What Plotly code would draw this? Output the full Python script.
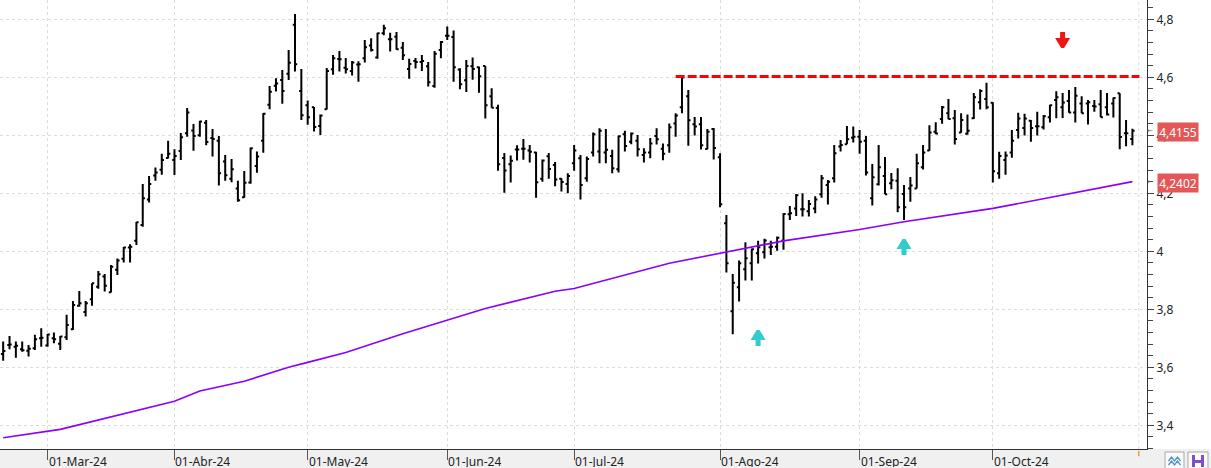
import pandas as pd
import plotly.graph_objects as go

# ---------------- data ----------------
holidays = ["2024-03-29", "2024-04-01", "2024-05-01"]
dates = [d.strftime("%Y-%m-%d") for d in pd.bdate_range("2024-02-21", "2024-10-31")
         if d.strftime("%Y-%m-%d") not in holidays]

tick_labels = ["01-Mar-24", "01-Abr-24", "01-May-24", "01-Jun-24",
               "01-Jul-24", "01-Ago-24", "01-Sep-24", "01-Oct-24"]

opens = [
    3.646, 3.677, 3.671, 3.662, 3.657, 3.666, 3.700, 3.675, 3.700, 3.681,
    3.704, 3.731, 3.812, 3.791, 3.835, 3.878, 3.913, 3.859, 3.936, 3.974,
    4.013, 4.036, 4.091, 4.179, 4.261, 4.281, 4.322, 4.315, 4.346, 4.407,
    4.417, 4.400, 4.443, 4.391, 4.381, 4.310, 4.250, 4.217, 4.186, 4.237,
    4.294, 4.381, 4.505, 4.571, 4.591, 4.612, 4.781, 4.553, 4.504, 4.497,
    4.432, 4.490, 4.628, 4.663, 4.633, 4.622, 4.644, 4.666, 4.710, 4.668,
    4.752, 4.731, 4.740, 4.702, 4.629, 4.656, 4.653, 4.638, 4.570, 4.694,
    4.743, 4.739, 4.627, 4.590, 4.638, 4.635, 4.639, 4.535, 4.494, 4.322,
    4.300, 4.351, 4.354, 4.348, 4.341, 4.250, 4.328, 4.298, 4.250, 4.232,
    4.304, 4.321, 4.252, 4.341, 4.344, 4.341, 4.329, 4.283, 4.404, 4.378,
    4.381, 4.332, 4.341, 4.398, 4.354, 4.366, 4.441, 4.497, 4.535, 4.438,
    4.438, 4.353, 4.422, 4.324, 4.097, 3.793, 3.876, 3.938, 3.959, 3.993,
    3.997, 4.014, 4.016, 4.036, 4.128, 4.148, 4.145, 4.138, 4.148, 4.197,
    4.229, 4.252, 4.361, 4.369, 4.392, 4.395, 4.381, 4.183, 4.231, 4.260,
    4.235, 4.243, 4.198, 4.217, 4.217, 4.290, 4.348, 4.412, 4.456, 4.476,
    4.459, 4.410, 4.405, 4.459, 4.514, 4.525, 4.512, 4.269, 4.315, 4.341,
    4.418, 4.425, 4.450, 4.431, 4.428, 4.462, 4.522, 4.497, 4.518, 4.479,
    4.510, 4.510, 4.501, 4.507, 4.497, 4.510, 4.545, 4.407, 4.387,
]
highs = [
    3.689, 3.708, 3.689, 3.689, 3.677, 3.712, 3.735, 3.715, 3.720, 3.708,
    3.781, 3.829, 3.863, 3.829, 3.890, 3.932, 3.922, 3.953, 3.975, 4.015,
    4.024, 4.101, 4.232, 4.260, 4.289, 4.336, 4.381, 4.352, 4.408, 4.494,
    4.439, 4.450, 4.453, 4.422, 4.398, 4.332, 4.318, 4.243, 4.277, 4.358,
    4.344, 4.477, 4.570, 4.597, 4.625, 4.694, 4.818, 4.629, 4.520, 4.498,
    4.472, 4.632, 4.677, 4.691, 4.667, 4.656, 4.655, 4.729, 4.735, 4.754,
    4.781, 4.754, 4.756, 4.722, 4.664, 4.667, 4.677, 4.653, 4.691, 4.725,
    4.775, 4.761, 4.631, 4.660, 4.668, 4.637, 4.639, 4.562, 4.505, 4.339,
    4.330, 4.366, 4.387, 4.367, 4.343, 4.317, 4.339, 4.308, 4.252, 4.269,
    4.367, 4.332, 4.327, 4.410, 4.424, 4.422, 4.350, 4.399, 4.416, 4.410,
    4.401, 4.355, 4.391, 4.424, 4.372, 4.441, 4.476, 4.603, 4.556, 4.463,
    4.463, 4.422, 4.425, 4.338, 4.125, 3.922, 3.968, 4.031, 4.010, 4.036,
    4.043, 4.036, 4.051, 4.131, 4.156, 4.198, 4.200, 4.177, 4.190, 4.263,
    4.246, 4.367, 4.384, 4.432, 4.430, 4.418, 4.398, 4.301, 4.367, 4.325,
    4.270, 4.286, 4.229, 4.256, 4.336, 4.367, 4.435, 4.445, 4.501, 4.525,
    4.487, 4.476, 4.472, 4.546, 4.559, 4.581, 4.514, 4.343, 4.344, 4.418,
    4.478, 4.474, 4.453, 4.481, 4.470, 4.505, 4.552, 4.546, 4.556, 4.567,
    4.535, 4.522, 4.522, 4.556, 4.546, 4.530, 4.545, 4.453, 4.423,
]
lows = [
    3.623, 3.662, 3.633, 3.654, 3.637, 3.660, 3.671, 3.671, 3.683, 3.660,
    3.694, 3.729, 3.809, 3.775, 3.812, 3.871, 3.861, 3.858, 3.918, 3.961,
    3.961, 4.022, 4.085, 4.168, 4.243, 4.264, 4.320, 4.263, 4.315, 4.395,
    4.347, 4.395, 4.366, 4.327, 4.227, 4.243, 4.238, 4.171, 4.185, 4.233,
    4.271, 4.340, 4.490, 4.551, 4.509, 4.591, 4.620, 4.453, 4.436, 4.413,
    4.401, 4.489, 4.609, 4.620, 4.613, 4.606, 4.585, 4.651, 4.689, 4.664,
    4.745, 4.689, 4.695, 4.660, 4.595, 4.630, 4.622, 4.568, 4.564, 4.666,
    4.729, 4.585, 4.559, 4.549, 4.592, 4.547, 4.458, 4.495, 4.278, 4.202,
    4.237, 4.313, 4.316, 4.306, 4.185, 4.240, 4.250, 4.224, 4.206, 4.200,
    4.278, 4.179, 4.240, 4.327, 4.304, 4.304, 4.269, 4.272, 4.344, 4.369,
    4.327, 4.306, 4.321, 4.368, 4.314, 4.340, 4.395, 4.476, 4.364, 4.399,
    4.351, 4.352, 4.317, 4.152, 3.927, 3.714, 3.827, 3.899, 3.899, 3.958,
    3.975, 3.987, 4.002, 4.005, 4.108, 4.122, 4.120, 4.120, 4.131, 4.185,
    4.161, 4.237, 4.344, 4.369, 4.375, 4.336, 4.261, 4.158, 4.227, 4.197,
    4.214, 4.135, 4.108, 4.171, 4.217, 4.282, 4.347, 4.404, 4.440, 4.455,
    4.368, 4.409, 4.402, 4.456, 4.489, 4.490, 4.237, 4.250, 4.264, 4.323,
    4.389, 4.399, 4.378, 4.399, 4.420, 4.444, 4.459, 4.460, 4.478, 4.444,
    4.476, 4.437, 4.481, 4.462, 4.468, 4.461, 4.352, 4.362, 4.366,
]
closes = [
    3.656, 3.679, 3.674, 3.659, 3.664, 3.697, 3.702, 3.713, 3.697, 3.706,
    3.746, 3.815, 3.821, 3.821, 3.890, 3.921, 3.881, 3.947, 3.968, 4.013,
    4.016, 4.100, 4.183, 4.232, 4.272, 4.315, 4.336, 4.329, 4.393, 4.479,
    4.398, 4.448, 4.377, 4.387, 4.269, 4.262, 4.283, 4.176, 4.236, 4.355,
    4.327, 4.474, 4.550, 4.579, 4.553, 4.650, 4.645, 4.469, 4.462, 4.429,
    4.468, 4.622, 4.666, 4.662, 4.628, 4.651, 4.645, 4.704, 4.694, 4.752,
    4.769, 4.731, 4.697, 4.676, 4.646, 4.653, 4.656, 4.583, 4.681, 4.722,
    4.743, 4.635, 4.576, 4.639, 4.629, 4.604, 4.504, 4.495, 4.300, 4.279,
    4.312, 4.351, 4.354, 4.343, 4.238, 4.313, 4.284, 4.248, 4.239, 4.260,
    4.348, 4.229, 4.318, 4.404, 4.416, 4.350, 4.286, 4.397, 4.363, 4.406,
    4.352, 4.341, 4.372, 4.386, 4.336, 4.428, 4.468, 4.599, 4.452, 4.430,
    4.366, 4.412, 4.356, 4.162, 3.959, 3.892, 3.959, 3.976, 4.007, 4.014,
    4.037, 4.016, 4.047, 4.129, 4.131, 4.193, 4.145, 4.163, 4.179, 4.252,
    4.240, 4.338, 4.367, 4.386, 4.395, 4.378, 4.272, 4.255, 4.290, 4.197,
    4.245, 4.152, 4.152, 4.227, 4.304, 4.341, 4.410, 4.406, 4.497, 4.456,
    4.387, 4.453, 4.416, 4.531, 4.553, 4.497, 4.276, 4.329, 4.330, 4.381,
    4.458, 4.458, 4.425, 4.431, 4.466, 4.504, 4.531, 4.513, 4.479, 4.536,
    4.476, 4.514, 4.499, 4.462, 4.472, 4.529, 4.394, 4.407, 4.4155,
]

# moving average (read at sampled bars)
ma_idx = [0, 7, 9, 27, 31, 38, 45, 48, 54, 63, 69, 76, 87, 90, 105, 113,
          123, 135, 142, 156, 166, 178]
ma_vals = [3.357, 3.380, 3.386, 3.483, 3.518, 3.552, 3.600, 3.617, 3.651,
           3.716, 3.757, 3.803, 3.862, 3.872, 3.959, 3.993, 4.036, 4.075,
           4.102, 4.148, 4.189, 4.2402]

resistance_level = 4.603
resistance_from_bar = 106

up_signal_bars = [119, 142]
up_signal_prices = [3.701, 4.015]
down_signal_bars = [167]
down_signal_prices = [4.729]

# --------------- figure ---------------
n = len(dates)
tick_dates = []
seen = set()
for d in dates:
    m = d[:7]
    if m not in seen:
        seen.add(m)
        if d[8:] <= "03":
            tick_dates.append(d)

fig = go.Figure()
bar_line = dict(color="#000000", width=2)
fig.add_trace(go.Ohlc(
    x=dates, open=opens, high=highs, low=lows, close=closes,
    increasing=dict(line=bar_line), decreasing=dict(line=bar_line),
    tickwidth=0.35, hoverinfo="skip", showlegend=False,
))
fig.add_trace(go.Scatter(
    x=[dates[i] for i in ma_idx], y=ma_vals, mode="lines",
    line=dict(color="#8a00ff", width=1.6), hoverinfo="skip", showlegend=False,
))

grid = "#dcdcdc"
fig.update_layout(
    width=1211, height=468,
    margin=dict(l=0, r=64, t=0, b=19, pad=0),
    paper_bgcolor="white", plot_bgcolor="white",
    showlegend=False, separators=",.",
    font=dict(family="Noto Sans, Open Sans, sans-serif", size=12, color="#222222"),
    xaxis=dict(
        type="category", range=[-0.5, 180.3],
        rangeslider=dict(visible=False),
        tickmode="array", tickvals=tick_dates, ticktext=[""] * len(tick_dates),
        showticklabels=False,
        ticks="outside", ticklen=10, tickcolor="#555555",
        showgrid=True, gridcolor=grid, griddash="3px,3px", gridwidth=1,
        showline=True, linecolor="#333333", linewidth=1,
        zeroline=False, fixedrange=True,
    ),
    yaxis=dict(
        side="right", range=[3.3183, 4.8666],
        tick0=3.4, dtick=0.2,
        ticks="outside", ticklen=6, tickcolor="#444444",
        minor=dict(dtick=0.04, ticks="outside", ticklen=5, tickcolor="#444444", showgrid=False),
        showgrid=True, gridcolor=grid, griddash="3px,3px", gridwidth=1,
        showline=True, linecolor="#333333", linewidth=1,
        zeroline=False, fixedrange=True,
        tickfont=dict(size=12, color="#222222"),
    ),
)

shapes = []
# bottom gray strip
shapes.append(dict(type="rect", xref="paper", yref="paper", x0=-0.01, x1=1.06,
                   y0=-0.06, y1=0, fillcolor="#f0f0f0", line=dict(width=0), layer="below"))
# Nov gridline + orange tick
shapes.append(dict(type="line", xref="x", yref="paper", x0=n, x1=n, y0=0, y1=1,
                   line=dict(color=grid, width=1, dash="3px,3px"), layer="below"))
shapes.append(dict(type="line", xref="x", yref="paper", x0=n, x1=n, y0=-0.004, y1=-0.016,
                   line=dict(color="#f0a030", width=1.5)))
# resistance
shapes.append(dict(type="line", xref="x", yref="y", x0=resistance_from_bar, x1=n + 0.1,
                   y0=resistance_level, y1=resistance_level,
                   line=dict(color="#ff0000", width=3, dash="9px,3px")))
# signal arrows
up_path = "M -1.5,8 L 1.5,8 L 7.5,-2 L 2.5,-2 L 2.5,-8 L -2.5,-8 L -2.5,-2 L -7.5,-2 Z"
down_path = "M -1.5,-8 L 1.5,-8 L 7.5,2 L 2.5,2 L 2.5,8 L -2.5,8 L -2.5,2 L -7.5,2 Z"
for b, p in zip(up_signal_bars, up_signal_prices):
    shapes.append(dict(type="path", xref="x", yref="y", xsizemode="pixel", ysizemode="pixel",
                       xanchor=b, yanchor=p, path=up_path,
                       fillcolor="#33cccc", line=dict(width=0)))
for b, p in zip(down_signal_bars, down_signal_prices):
    shapes.append(dict(type="path", xref="x", yref="y", xsizemode="pixel", ysizemode="pixel",
                       xanchor=b, yanchor=p, path=down_path,
                       fillcolor="#f01414", line=dict(width=0)))
# bottom-right buttons
pw = 1147.0
ph = 449.0
def px(x):
    return x / pw
def py(y):
    return (ph - y) / ph
for x0, x1 in [(1165, 1184), (1188, 1208)]:
    shapes.append(dict(type="rect", xref="paper", yref="paper", x0=px(x0), x1=px(x1),
                       y0=py(470), y1=py(452), fillcolor="#fafafa",
                       line=dict(color="#a8a8a8", width=1)))
shapes.append(dict(type="path", xref="paper", yref="paper", xsizemode="pixel", ysizemode="pixel",
                   xanchor=px(1174.5), yanchor=py(461),
                   path="M -6,0 L -3,4 L 0,0 L 3,4 L 6,0 M -6,-4 L -3,0 L 0,-4 L 3,0 L 6,-4",
                   line=dict(color="#4a8fd8", width=1.3)))
shapes.append(dict(type="path", xref="paper", yref="paper", xsizemode="pixel", ysizemode="pixel",
                   xanchor=px(1198), yanchor=py(461),
                   path="M -6,-6 L 6,-6 L 6,6 L -6,6 Z",
                   fillcolor="#7d4fc9", line=dict(width=0)))
shapes.append(dict(type="path", xref="paper", yref="paper", xsizemode="pixel", ysizemode="pixel",
                   xanchor=px(1198), yanchor=py(461),
                   path="M -3,6 L 3,6 L 3,1 L -3,1 Z M -3,-6 L 3,-6 L 3,-2 L -3,-2 Z",
                   fillcolor="#ffffff", line=dict(width=0)))
fig.update_layout(shapes=shapes)

# month labels
for d, lab in zip(tick_dates, tick_labels):
    fig.add_annotation(x=d, xref="x", y=0, yref="paper", text=lab, showarrow=False,
                       xanchor="left", yanchor="middle", xshift=0, yshift=-11.5,
                       height=12, borderpad=0,
                       font=dict(size=12, color="#222222"))

# last value boxes
last_close = closes[-1]
last_ma = ma_vals[-1]
for v in [last_close, last_ma]:
    fig.add_annotation(x=1, xref="paper", y=v, yref="y", xanchor="left", xshift=10,
                       yshift=-1, text=f"{v:.4f}".replace(".", ","), showarrow=False,
                       bgcolor="#e35757", font=dict(color="white", size=12),
                       borderpad=1, width=38, height=16)
    fig.add_annotation(x=1, xref="paper", y=v, yref="y", xanchor="left", xshift=-1,
                       text="←", showarrow=False, borderpad=0,
                       font=dict(family="DejaVu Sans", color="#555555", size=7))

fig.write_html(
    "out.html",
    config={"displayModeBar": False},
    post_script="document.body.style.margin='0';document.body.style.padding='0';"
                "document.documentElement.style.overflow='hidden';",
)
